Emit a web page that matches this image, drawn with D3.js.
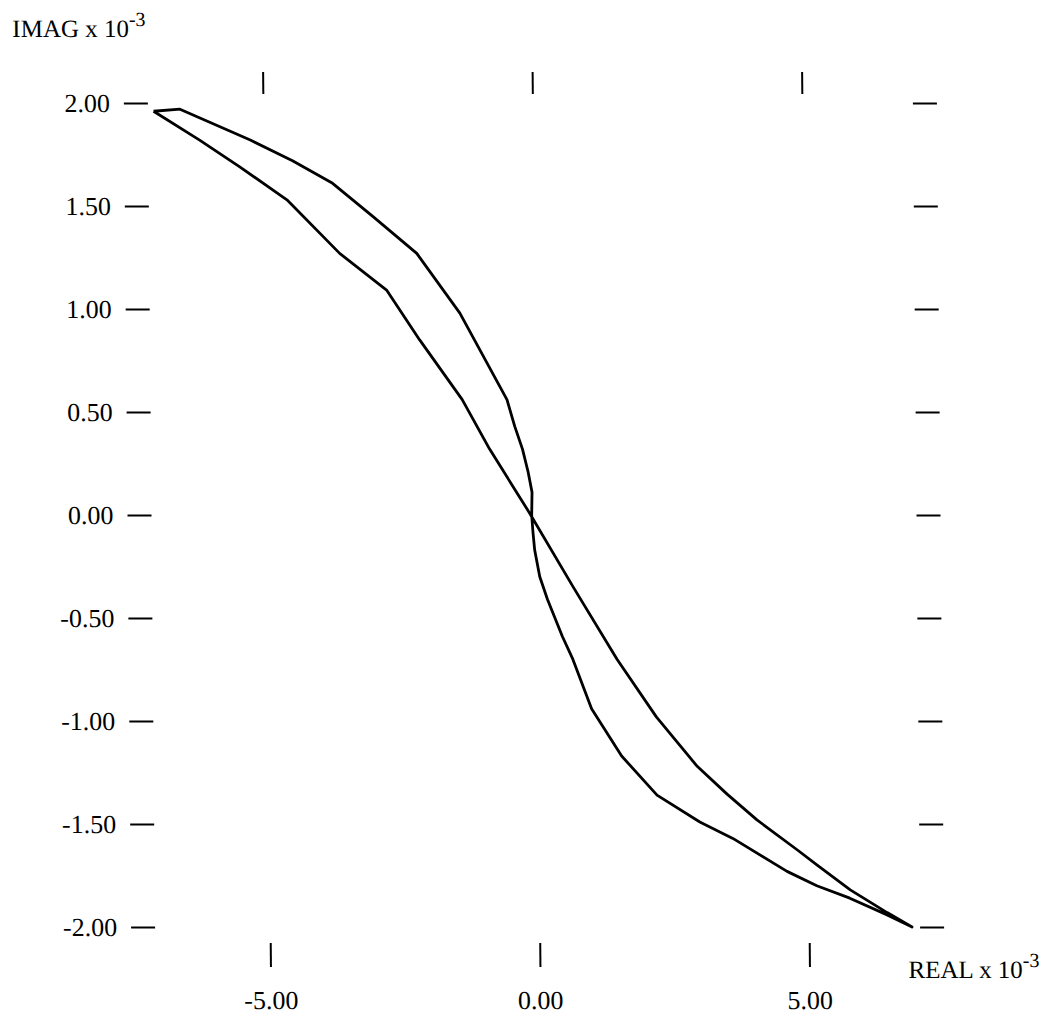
<!DOCTYPE html>
<html>
<head>
<meta charset="utf-8">
<script src="https://cdn.jsdelivr.net/npm/d3@7"></script>
<style>
  body { margin: 0; background: #fff; }
  text { font-family: "Liberation Serif", "DejaVu Serif", serif; fill: #000; }
</style>
</head>
<body>
<div id="chart"></div>
<script>

// tick values of both axes
var xTicks = [-5, 0, 5];
var yTicks = [2, 1.5, 1, 0.5, 0, -0.5, -1, -1.5, -2];

// branch with the steep part through the origin (top-left tip -> bottom-right tip)
var branchA = [
  [-7.03, 1.96], [-6.54, 1.97], [-5.24, 1.82], [-4.46, 1.72], [-3.72, 1.61],
  [-2.98, 1.45], [-2.17, 1.27], [-1.38, 0.98], [-0.52, 0.56], [-0.38, 0.43],
  [-0.24, 0.32], [-0.14, 0.21], [-0.07, 0.11], [-0.08, 0.00], [-0.06, -0.08],
  [-0.03, -0.17], [0.06, -0.30], [0.20, -0.41], [0.47, -0.59], [0.66, -0.70],
  [1.00, -0.94], [1.55, -1.17], [2.20, -1.36], [2.99, -1.49], [3.60, -1.57],
  [4.60, -1.73], [5.15, -1.80], [5.76, -1.86], [6.44, -1.94], [6.91, -2.00]
];

// straighter branch (bottom-right tip -> top-left tip)
var branchB = [
  [6.91, -2.00], [6.45, -1.93], [5.77, -1.82], [5.16, -1.70], [4.79, -1.625],
  [4.05, -1.48], [3.50, -1.355], [2.95, -1.22], [2.20, -0.98], [1.48, -0.70],
  [0.68, -0.35], [-0.12, 0.01], [-0.85, 0.32], [-1.35, 0.56], [-2.13, 0.85],
  [-2.73, 1.09], [-3.60, 1.27], [-4.57, 1.53], [-5.44, 1.69], [-6.18, 1.82],
  [-7.03, 1.96]
];

var width = 1062, height = 1019;

var svg = d3.select("#chart")
  .append("svg")
  .attr("width", width)
  .attr("height", height);

// the scanned original leans a little: reproduce with a small skew
var g = svg.append("g").attr("transform", "skewX(0.5)");

// scales
var x = d3.scaleLinear().domain([-5, 5]).range([262, 801]);
var y = d3.scaleLinear().domain([-2, 2]).range([927, 103]);

// plain hyphen for negatives, like the original plot
var fmt = d3.formatLocale({decimal: ".", thousands: ",", grouping: [3], currency: ["", ""], minus: "-"}).format(".2f");

// axes (no domain line, just the floating ticks)
var left = g.append("g")
  .attr("transform", "translate(147,0)")
  .call(d3.axisLeft(y).tickValues(yTicks).tickSize(24).tickPadding(14).tickFormat(fmt));

var right = g.append("g")
  .attr("transform", "translate(912,0)")
  .call(d3.axisRight(y).tickValues(yTicks).tickSize(24).tickFormat(""));

var top_ = g.append("g")
  .attr("transform", "translate(0,94)")
  .call(d3.axisTop(x).tickValues(xTicks).tickSize(22).tickFormat(""));

var bottom = g.append("g")
  .attr("transform", "translate(0,943)")
  .call(d3.axisBottom(x).tickValues(xTicks).tickSize(24).tickPadding(24).tickFormat(fmt));

[left, right, top_, bottom].forEach(function(a){
  a.select(".domain").remove();
  a.selectAll(".tick line").attr("stroke", "#000").attr("stroke-width", 2);
  a.selectAll(".tick text")
    .style("font-family", '"Liberation Serif", serif')
    .style("font-size", "26px")
    .attr("fill", "#000");
});

// the loop
var line = d3.line()
  .x(function(d){ return x(d[0]); })
  .y(function(d){ return y(d[1]); });

g.append("path")
  .datum(branchA.concat(branchB.slice(1)))
  .attr("d", line)
  .attr("fill", "none")
  .attr("stroke", "#000")
  .attr("stroke-width", 2.8)
  .attr("stroke-linejoin", "round");

// axis titles
var yTitle = g.append("text")
  .attr("x", 12)
  .attr("y", 37)
  .style("font-size", "25px");
yTitle.append("tspan").text("IMAG x 10");
yTitle.append("tspan").attr("dy", -11).style("font-size", "20px").text("-3");

var xTitle = g.append("text")
  .attr("x", 900)
  .attr("y", 978)
  .style("font-size", "25px");
xTitle.append("tspan").text("REAL x 10");
xTitle.append("tspan").attr("dy", -11).style("font-size", "20px").text("-3");

</script>
</body>
</html>
